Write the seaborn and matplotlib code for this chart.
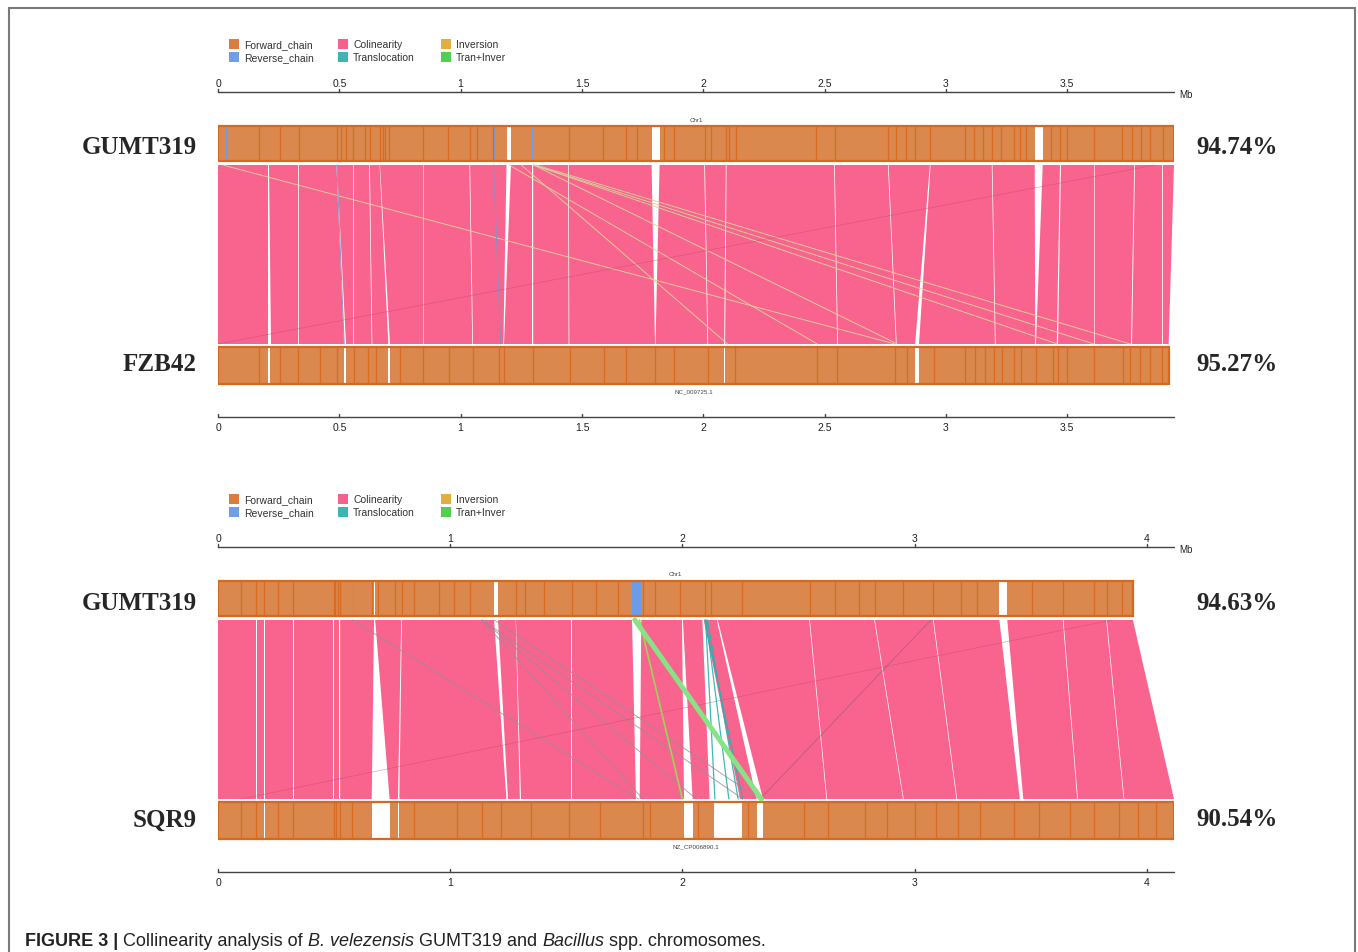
import numpy as np
import pandas as pd
import seaborn as sns
import matplotlib.pyplot as plt
from matplotlib.patches import Rectangle

sns.set_theme(style="white")
plt.rcParams['font.family'] = ['Liberation Sans', 'DejaVu Sans']

W, H = 1358, 953

# ---------------- data (Mb) ----------------
legend_labels = ['Forward_chain', 'Colinearity', 'Inversion',
                 'Reverse_chain', 'Translocation', 'Tran+Inver']
legend_colors = ['#DE7C3F', '#F2628A', '#E2AE3E',
                 '#6F9DEA', '#3CB6B0', '#50D050']

# panel 1 : GUMT319 vs FZB42
p1_names = ['GUMT319', 'FZB42']
p1_pct = ['94.74%', '95.27%']
p1_ids = ['Chr1', 'NC_009725.1']
p1_len = [3.940, 3.918]
p1_ticks = [0, 0.5, 1, 1.5, 2, 2.5, 3, 3.5]
p1_tick_labels = ['0', '0.5', '1', '1.5', '2', '2.5', '3', '3.5']

p1_top_gaps = [(1.190, 1.207), (1.787, 1.820), (3.366, 3.399)]
p1_top_rev = [(0.034, 0.039), (1.135, 1.140), (1.295, 1.300)]
p1_top_marks = [0.171, 0.255, 0.332, 0.490, 0.508, 0.528, 0.558, 0.604, 0.625,
                0.668, 0.680, 0.690, 0.706, 0.846, 0.948, 1.038, 1.068, 1.134,
                1.445, 1.586, 1.680, 1.726, 1.840, 1.879, 2.006, 2.032, 2.095,
                2.108, 2.134, 2.465, 2.541, 2.763, 2.796, 2.834, 2.873, 2.936,
                3.077, 3.115, 3.153, 3.191, 3.229, 3.281, 3.306, 3.331, 3.433,
                3.472, 3.497, 3.612, 3.726, 3.765, 3.803, 3.841, 3.893]
p1_bot_gaps = [(0.207, 0.216), (0.519, 0.528), (0.702, 0.709),
               (2.086, 2.090), (2.873, 2.889)]
p1_bot_rev = []
p1_bot_marks = [0.171, 0.255, 0.330, 0.420, 0.490, 0.560, 0.620, 0.650, 0.750,
                0.846, 0.950, 1.050, 1.160, 1.180, 1.300, 1.450, 1.590, 1.680,
                1.800, 1.880, 2.020, 2.130, 2.470, 2.550, 2.790, 2.840, 2.950,
                3.080, 3.120, 3.160, 3.200, 3.230, 3.280, 3.310, 3.370, 3.440,
                3.460, 3.500, 3.610, 3.730, 3.760, 3.800, 3.840, 3.890]

# collinear blocks: (top start, top end, bottom start, bottom end)
p1_blocks = [(0.000, 0.207, 0.000, 0.207), (0.210, 0.330, 0.217, 0.330),
             (0.333, 0.488, 0.333, 0.519), (0.491, 0.556, 0.528, 0.556),
             (0.559, 0.623, 0.559, 0.633), (0.626, 0.666, 0.636, 0.702),
             (0.669, 0.844, 0.709, 0.844), (0.847, 1.036, 0.847, 1.048),
             (1.039, 1.189, 1.051, 1.176), (1.207, 1.296, 1.179, 1.296),
             (1.299, 1.443, 1.299, 1.445), (1.446, 1.787, 1.448, 1.801),
             (1.820, 2.004, 1.803, 2.017), (2.007, 2.093, 2.020, 2.086),
             (2.096, 2.539, 2.090, 2.552), (2.542, 2.761, 2.555, 2.794),
             (2.764, 2.934, 2.797, 2.873), (2.937, 3.189, 2.889, 3.202),
             (3.192, 3.366, 3.205, 3.368), (3.399, 3.470, 3.371, 3.457),
             (3.473, 3.610, 3.460, 3.610), (3.613, 3.776, 3.613, 3.763),
             (3.779, 3.891, 3.766, 3.891), (3.894, 3.940, 3.894, 3.918)]

# links: (top pos, bottom pos, kind)
p1_links = [(0.020, 2.790, 'pale'), (1.300, 2.800, 'pale'), (1.300, 3.460, 'pale'),
            (1.300, 3.610, 'pale'), (1.310, 3.760, 'pale'), (1.200, 2.470, 'pale'),
            (1.250, 2.100, 'pale'), (3.860, 0.000, 'rev'),
            (0.490, 0.520, 'blue'), (1.136, 1.165, 'blue')]

# panel 2 : GUMT319 vs SQR9
p2_names = ['GUMT319', 'SQR9']
p2_pct = ['94.63%', '90.54%']
p2_ids = ['Chr1', 'NZ_CP006890.1']
p2_len = [3.940, 4.117]
p2_ticks = [0, 1, 2, 3, 4]
p2_tick_labels = ['0', '1', '2', '3', '4']

p2_top_gaps = [(0.672, 0.677), (1.189, 1.206), (3.365, 3.399)]
p2_top_rev = [(0.580, 0.584), (1.135, 1.139), (1.784, 1.822)]
p2_top_marks = [0.099, 0.165, 0.200, 0.258, 0.325, 0.498, 0.505, 0.515, 0.525,
                0.663, 0.690, 0.764, 0.791, 0.844, 0.951, 1.017, 1.084, 1.284,
                1.324, 1.404, 1.523, 1.630, 1.723, 1.830, 1.883, 1.989, 2.096,
                2.122, 2.256, 2.548, 2.655, 2.762, 2.828, 2.948, 3.081, 3.201,
                3.268, 3.507, 3.640, 3.773, 3.827, 3.893]
p2_bot_gaps = [(0.199, 0.202), (0.662, 0.739), (0.775, 0.781),
               (2.007, 2.044), (2.136, 2.256), (2.320, 2.346)]
p2_bot_rev = []
p2_bot_marks = [0.099, 0.165, 0.258, 0.325, 0.498, 0.510, 0.525, 0.578, 0.844,
                1.031, 1.137, 1.217, 1.350, 1.510, 1.643, 1.830, 1.862, 2.069,
                2.282, 2.522, 2.628, 2.788, 2.881, 3.001, 3.094, 3.188, 3.281,
                3.427, 3.534, 3.667, 3.773, 3.880, 3.960, 4.040]

p2_blocks = [(0.000, 0.097, 0.000, 0.097), (0.100, 0.163, 0.100, 0.163),
             (0.166, 0.198, 0.166, 0.198), (0.201, 0.323, 0.203, 0.323),
             (0.326, 0.496, 0.326, 0.496), (0.499, 0.523, 0.499, 0.523),
             (0.526, 0.672, 0.526, 0.662), (0.677, 0.789, 0.739, 0.775),
             (0.792, 1.189, 0.781, 1.242), (1.206, 1.282, 1.249, 1.300),
             (1.285, 1.521, 1.303, 1.521), (1.524, 1.783, 1.524, 1.800),
             (1.823, 1.998, 1.816, 2.007), (2.002, 2.086, 2.044, 2.117),
             (2.092, 2.148, 2.248, 2.319), (2.152, 2.546, 2.347, 2.620),
             (2.549, 2.826, 2.623, 2.950), (2.829, 3.079, 2.953, 3.180),
             (3.082, 3.365, 3.183, 3.453), (3.399, 3.638, 3.468, 3.700),
             (3.641, 3.825, 3.703, 3.900), (3.828, 3.940, 3.903, 4.117)]

p2_links = [(0.580, 1.810, 'gray'), (1.137, 1.830, 'gray'), (1.137, 2.060, 'gray'),
            (1.137, 2.260, 'gray'), (1.190, 2.330, 'gray'), (3.070, 2.335, 'dark'),
            (3.850, 0.100, 'rev'),
            (2.096, 2.260, 'teal'), (2.100, 2.140, 'teal'), (2.102, 2.200, 'teal'),
            (2.108, 2.240, 'teal'),
            (1.815, 2.000, 'green_thin'), (1.795, 2.340, 'green')]

# ---------------- styles ----------------
PINK = '#F8648D'
BAR_FILL = '#DA884D'
BAR_DARK = '#D7691E'
BLUE = '#6E9BE8'
link_style = {
    'pale': ('#D6D59A', 0.7, 0.9),
    'rev': ('#C0486A', 0.5, 0.5),
    'blue': ('#8C8FC4', 0.8, 0.9),
    'gray': ('#9A8C9C', 0.7, 0.8),
    'dark': ('#8E5A72', 0.6, 0.6),
    'teal': ('#2EAFB0', 0.9, 0.9),
    'green_thin': ('#9BD45A', 1.2, 1.0),
    'green': ('#86E486', 3.6, 1.0),
}

# local panel layout (px)
Y_AX_TOP, Y_BAR1, Y_PINK, Y_BAR2, Y_AX_BOT = 93, (127, 162), (166, 345), (348, 385), 418

fig = plt.figure(figsize=(W / 100, H / 100), dpi=100)
fig.patch.set_facecolor('white')


def draw_bar(ax, length, y0, y1, gaps, rev, marks):
    ax.add_patch(Rectangle((0, y0), length, y1 - y0, facecolor=BAR_FILL, lw=0))
    for a, b in gaps:
        ax.add_patch(Rectangle((a, y0), b - a, y1 - y0, facecolor='white', lw=0))
    ax.vlines(marks, y0, y1, color=BAR_DARK, lw=0.9, alpha=0.9)
    for a, b in rev:
        ax.add_patch(Rectangle((a, y0 + 1), b - a, y1 - y0 - 2, facecolor=BLUE, lw=0))
    ax.add_patch(Rectangle((0, y0), length, y1 - y0, fill=False,
                           edgecolor=BAR_DARK, lw=1.6))


def draw_axis(ax, y, ticks, labels, xmax, below, mb):
    ax.plot([0, xmax], [y, y], color='#444444', lw=1, clip_on=False)
    for t, lab in zip(ticks, labels):
        ax.plot([t, t], [y - 3, y], color='#444444', lw=1, clip_on=False)
        ax.text(t, y + 10 if below else y - 9, lab, ha='center', va='center',
                fontsize=7.5, color='#222222', clip_on=False)
    if mb:
        ax.text(xmax * 1.006, y + 2, 'Mb', ha='left', va='center', fontsize=7,
                color='#222222', clip_on=False)


def draw_panel(off, names, pct, ids, lens, ticks, tlabels, top_gaps, top_rev,
               top_marks, bot_gaps, bot_rev, bot_marks, blocks, links):
    xmax = max(lens)
    ax = fig.add_axes([218 / W, 1 - (440 + off) / H, 956 / W, 410 / H])
    ax.set_xlim(0, xmax)
    ax.set_ylim(440, 30)
    ax.axis('off')
    ax.set_facecolor('none')

    # legend
    cols = [229, 338, 441]
    rows = [45, 58]
    for i, (lab, col) in enumerate(zip(legend_labels, legend_colors)):
        cx, ry = cols[i % 3], rows[i // 3] + off
        fig.add_artist(Rectangle((cx / W, 1 - (ry + 5) / H), 10 / W, 10 / H,
                                 transform=fig.transFigure, color=col, lw=0))
        fig.text((cx + 15) / W, 1 - ry / H, lab, ha='left', va='center',
                 fontsize=7.5, color='#333333')

    draw_axis(ax, Y_AX_TOP, ticks, tlabels, xmax, False, True)
    draw_axis(ax, Y_AX_BOT, ticks, tlabels, xmax, True, False)

    # collinear blocks
    for t0, t1, b0, b1 in blocks:
        ax.fill([t0, t1, b1, b0], [Y_PINK[0], Y_PINK[0], Y_PINK[1], Y_PINK[1]],
                color=PINK, lw=0)

    # links
    rows_df = []
    for i, (t, b, k) in enumerate(links):
        rows_df.append(dict(x=t, y=Y_PINK[0], link=i, kind=k))
        rows_df.append(dict(x=b, y=Y_PINK[1], link=i, kind=k))
    df = pd.DataFrame(rows_df)
    for k, sub in df.groupby('kind', sort=False):
        c, lw, a = link_style[k]
        sns.lineplot(data=sub, x='x', y='y', units='link', estimator=None,
                     sort=False, color=c, lw=lw, alpha=a, ax=ax, legend=False)
    ax.set_xlim(0, xmax)
    ax.set_ylim(440, 30)
    ax.axis('off')

    draw_bar(ax, lens[0], Y_BAR1[0], Y_BAR1[1], top_gaps, top_rev, top_marks)
    draw_bar(ax, lens[1], Y_BAR2[0], Y_BAR2[1], bot_gaps, bot_rev, bot_marks)
    ax.text(lens[0] / 2, 120, ids[0], ha='center', va='center', fontsize=4.5,
            color='#444444')
    ax.text(lens[1] / 2, 392, ids[1], ha='center', va='center', fontsize=4.5,
            color='#444444')

    for name, p, yc in zip(names, pct, [148, 365]):
        fig.text(197 / W, 1 - (yc + off) / H, name, ha='right', va='center',
                 family='Liberation Serif', fontweight='bold', fontsize=18)
        fig.text(1196 / W, 1 - (yc + off) / H, p, ha='left', va='center',
                 family='Liberation Serif', fontweight='bold', fontsize=18)


draw_panel(0, p1_names, p1_pct, p1_ids, p1_len, p1_ticks, p1_tick_labels,
           p1_top_gaps, p1_top_rev, p1_top_marks, p1_bot_gaps, p1_bot_rev,
           p1_bot_marks, p1_blocks, p1_links)
draw_panel(455, p2_names, p2_pct, p2_ids, p2_len, p2_ticks, p2_tick_labels,
           p2_top_gaps, p2_top_rev, p2_top_marks, p2_bot_gaps, p2_bot_rev,
           p2_bot_marks, p2_blocks, p2_links)

# frame
fig.add_artist(Rectangle((9 / W, -0.05), (1355 - 9) / W, 1 - 9 / H + 0.05,
                         transform=fig.transFigure, fill=False,
                         edgecolor='#7A7A7A', lw=1.5))

# caption
axc = fig.add_axes([0, 0, 1, 1])
axc.axis('off')
axc.set_facecolor('none')
parts = [('FIGURE 3 | ', 'bold', 'normal'),
         ('Collinearity analysis of ', 'normal', 'normal'),
         ('B. velezensis', 'normal', 'italic'),
         (' GUMT319 and ', 'normal', 'normal'),
         ('Bacillus', 'normal', 'italic'),
         (' spp. chromosomes.', 'normal', 'normal')]
prev = axc.text(25 / W, 1 - 946 / H, parts[0][0], transform=axc.transAxes,
                fontsize=13, fontweight=parts[0][1], style=parts[0][2],
                color='#222222', va='baseline', ha='left')
for txt, wgt, sty in parts[1:]:
    prev = axc.annotate(txt, xy=(1, 0), xycoords=prev, va='bottom', ha='left',
                        fontsize=13, fontweight=wgt, style=sty, color='#222222')

fig.savefig('out.png', dpi=100, facecolor='white')
